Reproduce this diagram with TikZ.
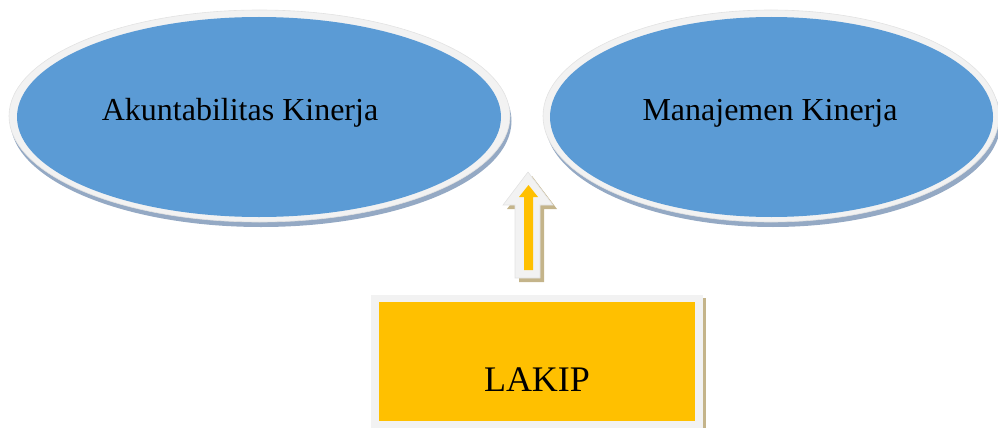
\documentclass[tikz,border=0pt]{standalone}
\usepackage{fontspec}
\setmainfont{Liberation Serif}
\usetikzlibrary{shapes.geometric}
\definecolor{ellblue}{HTML}{5B9BD5}
\definecolor{rimgray}{HTML}{F2F2F2}
\definecolor{rimedge}{HTML}{E2E2E2}
\definecolor{ellshadow}{HTML}{94A9C4}
\definecolor{tanshadow}{HTML}{C4B48A}
\definecolor{lakipyellow}{HTML}{FFC000}
\tikzset{
  rim/.style={ellipse, fill=rimgray, draw=rimedge, line width=0.6pt, inner sep=0pt},
  core/.style={ellipse, fill=ellblue, inner sep=0pt},
  shade/.style={ellipse, fill=ellshadow, inner sep=0pt},
  lbl/.style={font=\fontsize{32}{38}\selectfont, anchor=base, inner sep=0pt},
}
\begin{document}
\begin{tikzpicture}[x=1pt,y=-1pt]
\useasboundingbox (0,0) rectangle (998,428);
% left ellipse
\node[shade, minimum width=501pt, minimum height=212pt] (aksh) at (261,121) {};
\node[rim, minimum width=501pt, minimum height=212pt] (akrim) at (259.5,116) {};
\node[core, minimum width=484pt, minimum height=200pt] (ak) at (259,117) {};
\node[lbl] (aktxt) at (240,120) {Akuntabilitas Kinerja};
% right ellipse
\node[shade, minimum width=456pt, minimum height=212pt] (mksh) at (773,121) {};
\node[rim, minimum width=456pt, minimum height=212pt] (mkrim) at (771,116) {};
\node[core, minimum width=443pt, minimum height=200pt] (mk) at (771.5,117) {};
\node[lbl] (mktxt) at (770,120) {Manajemen Kinerja};
% block arrow
\fill[tanshadow] (532,176) -- (507,209) -- (519,209) -- (519,282) -- (544,282) -- (544,209) -- (557,209) -- cycle;
\filldraw[fill=rimgray, draw=rimedge, line width=0.6pt] (528,172) -- (503,205) -- (515,205) -- (515,278) -- (540,278) -- (540,205) -- (553,205) -- cycle;
\fill[lakipyellow] (528.5,185) -- (519,197) -- (524,197) -- (524,270) -- (533,270) -- (533,197) -- (538,197) -- cycle;
% LAKIP box
\fill[tanshadow] (702,298) rectangle (706,428);
\node[fill=rimgray, minimum width=332pt, minimum height=140pt, inner sep=0pt] (lakiprim) at (537,365) {};
\node[fill=lakipyellow, minimum width=316pt, minimum height=119pt, inner sep=0pt] (lakip) at (537,361.5) {};
\node[anchor=base, inner sep=0pt, font=\fontsize{36}{42}\selectfont] (lakiptxt) at (537,391) {LAKIP};
\end{tikzpicture}
\end{document}
